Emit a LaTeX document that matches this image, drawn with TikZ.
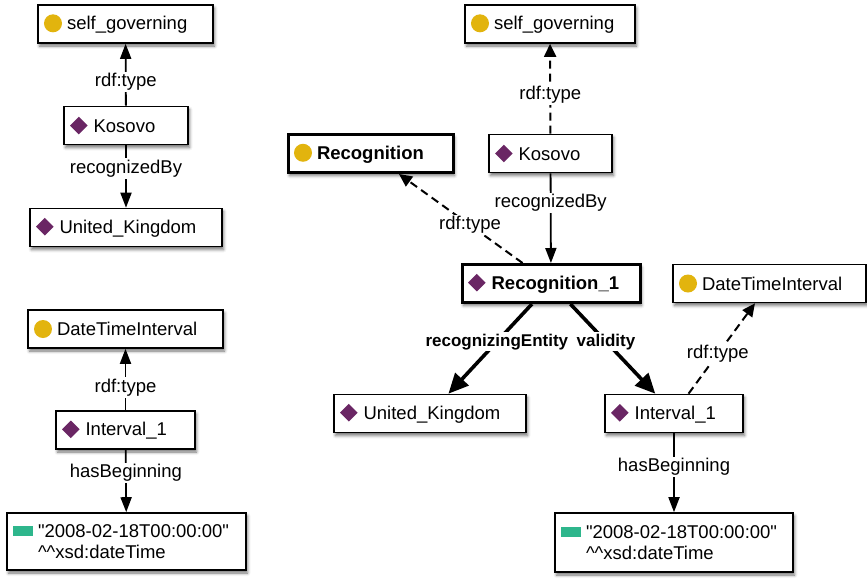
\documentclass[tikz,border=0pt]{standalone}
\usepackage{fontspec}
\setmainfont{Liberation Sans}[Ligatures=TeXOff]
\usetikzlibrary{arrows.meta,shadows.blur}

\definecolor{clsgold}{RGB}{226,180,14}
\definecolor{indpurple}{RGB}{106,38,100}
\definecolor{litgreen}{RGB}{46,182,140}

\newcommand{\nodefont}{\fontsize{18.5}{21}\selectfont}
\newcommand{\lblfont}{\fontsize{18.5}{21}\selectfont}
\newcommand{\boldlblfont}{\fontsize{17}{20}\selectfont\bfseries}

% small glyphs placed before the resource names
\newcommand{\clsicon}{\raisebox{-2.5pt}{\tikz\fill[clsgold] (0pt,0pt) circle (9pt);}\hspace{5pt}}
\newcommand{\indicon}{\raisebox{-2.3pt}{\tikz\fill[indpurple] (0pt,8.8pt)--(8.8pt,0pt)--(0pt,-8.8pt)--(-8.8pt,0pt)--cycle;}\hspace{6pt}}
\newcommand{\liticon}{\raisebox{1.5pt}{\tikz\fill[litgreen] (0pt,0pt) rectangle (20pt,10pt);}\hspace{5pt}}
\newcommand{\dtcaret}{\textasciicircum\textasciicircum}

\begin{document}
\begin{tikzpicture}[x=1pt,y=-1pt,
  box/.style={draw, line width=1.6pt, fill=white, inner xsep=6pt, inner ysep=0pt,
    minimum height=38pt, align=left, font=\nodefont,
    blur shadow={shadow xshift=1.5pt, shadow yshift=-3pt, shadow blur radius=3pt, shadow opacity=55}},
  keybox/.style={box, line width=3pt},
  elabel/.style={fill=white, inner sep=1.5pt, font=\lblfont},
  boldlabel/.style={fill=white, inner sep=1.5pt, font=\boldlblfont},
  thinedge/.style={line width=1.8pt, -{Triangle[length=15pt,width=11pt]}},
  typeedge/.style={line width=2pt, dash pattern=on 8pt off 5pt, -{Triangle[length=13pt,width=12pt]}},
  thickedge/.style={line width=3.6pt, -{Triangle[length=20pt,width=18pt]}}
]
\useasboundingbox (0,0) rectangle (867,579);

% ---- left: plain statement ----
\node[box, text width=163pt] (sgL)  at (125.5,24)  {\clsicon self\_governing};
\node[box, text width=112pt] (kosL) at (126,125.5) {\indicon Kosovo};
\node[box, text width=180pt] (ukL)  at (126,227.5) {\indicon United\_Kingdom};

% ---- left: the interval ----
\node[box, text width=183pt] (dtiL) at (125.5,329) {\clsicon DateTimeInterval};
\node[box, text width=127pt] (intL) at (125.5,430) {\indicon Interval\_1};
\node[box, text width=227pt, minimum height=57pt] (litL) at (126.5,541.5)
  {\liticon"2008-02-18T00:00:00"\\\hspace*{25pt}\dtcaret xsd:dateTime};

% ---- right: reified recognition ----
\node[box, text width=158pt] (sgR)  at (550,24)     {\clsicon self\_governing};
\node[box, text width=111pt] (kosR) at (550.5,153.5) {\indicon Kosovo};
\node[keybox, text width=153pt] (recog) at (370.5,153.5) {\clsicon\textbf{Recognition}};
\node[keybox, text width=166pt] (rec1)  at (551,283.5)   {\indicon\textbf{Recognition\_1}};
\node[box, text width=181pt] (dtiR) at (769.5,283.5) {\clsicon DateTimeInterval};
\node[box, text width=180pt] (ukR)  at (430,413.5)   {\indicon United\_Kingdom};
\node[box, text width=126pt] (intR) at (674,413.5)   {\indicon Interval\_1};
\node[box, text width=226pt, minimum height=59pt] (litR) at (674,542.5)
  {\liticon"2008-02-18T00:00:00"\\\hspace*{25pt}\dtcaret xsd:dateTime};

% ---- left connectors ----
\draw[thinedge] (kosL) -- node[elabel, pos=0.38] (lL1) {rdf:type} (sgL);
\draw[thinedge] (kosL) -- node[elabel, pos=0.37] (lL2) {recognizedBy} (ukL);
\draw[thinedge] (intL) -- node[elabel, pos=0.37] (lL3) {rdf:type} (dtiL);
\draw[thinedge] (intL) -- node[elabel, pos=0.375] (lL4) {hasBeginning} (litL);

% ---- right connectors ----
\draw[typeedge] (kosR) -- node[elabel, pos=0.43] (lR1) {rdf:type} (sgR);
\draw[thinedge] (kosR) -- node[elabel, pos=0.33] (lR2) {recognizedBy} (rec1);
\draw[typeedge] (rec1) -- node[elabel, pos=0.425] (lR3) {rdf:type} (recog);
\draw[typeedge] (intR) -- node[elabel, pos=0.44] (lR4) {rdf:type} (dtiR);
\draw[thinedge] (intR) -- node[elabel, pos=0.425] (lR5) {hasBeginning} (litR);
\draw[thickedge] (rec1) -- node[boldlabel, pos=0.42] (lR6) {recognizingEntity} (ukR);
\draw[thickedge] (rec1) -- node[boldlabel, pos=0.42] (lR7) {validity} (intR);
\end{tikzpicture}
\end{document}
